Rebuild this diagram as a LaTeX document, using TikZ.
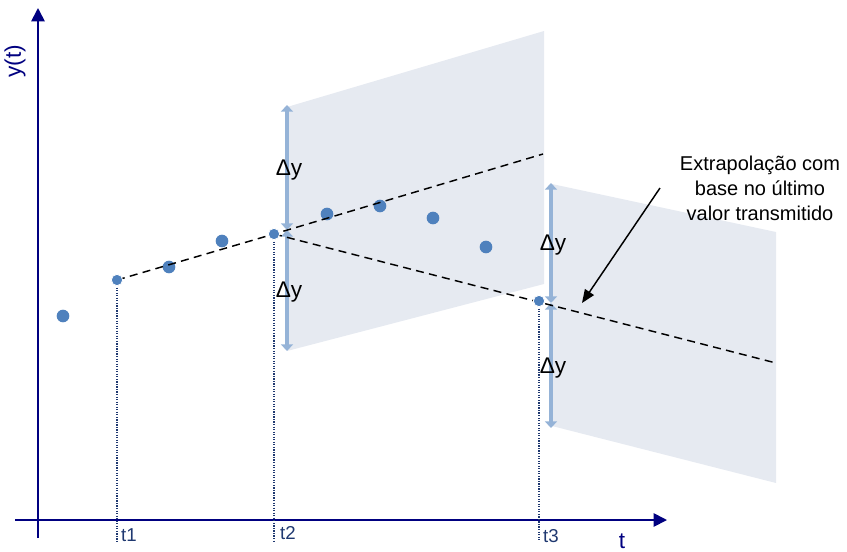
\documentclass[tikz,border=0pt]{standalone}
\usepackage{fontspec}
\setmainfont{Liberation Sans}
\usetikzlibrary{arrows.meta}
\definecolor{axisblue}{RGB}{0,0,128}
\definecolor{dotblue}{RGB}{79,129,189}
\definecolor{dyblue}{RGB}{149,179,215}
\definecolor{panelfill}{RGB}{230,234,241}
\definecolor{dotline}{RGB}{31,56,112}
\tikzset{
  pt/.style={circle,fill=dotblue,inner sep=0pt,minimum size=9.5pt},
  ptsmall/.style={circle,fill=dotblue,draw=white,line width=0.6pt,inner sep=0pt,minimum size=8.5pt},
  dashline/.style={black,line width=1.1pt,dash pattern=on 6pt off 4pt},
  dotv/.style={dotline,line width=0.9pt,densely dotted},
  dyarrow/.style={dyblue,line width=3pt,{Triangle[width=9pt,length=5pt]}-{Triangle[width=9pt,length=5pt]}},
  axis/.style={axisblue,line width=1.3pt,-{Triangle[width=10pt,length=10pt]}},
  panel/.style={fill=panelfill,draw=none},
  dylab/.style={font=\fontsize{17}{20}\selectfont,inner sep=0pt},
  tlab/.style={font=\fontsize{14}{16}\selectfont,text=dotline,inner sep=0pt},
  axlab/.style={font=\fontsize{17}{20}\selectfont,text=axisblue,inner sep=0pt}
}
\begin{document}
\begin{tikzpicture}[x=0.75pt,y=-0.75pt]
\useasboundingbox (0,0) rectangle (847,551);
% panels
\fill[panel] (287,107) -- (544,31) -- (544,284) -- (287,351) -- cycle;
\fill[panel] (552,184) -- (776,232) -- (776,483) -- (552,426) -- cycle;
% delta arrows
\coordinate (a1t) at (287,105);
\coordinate (a1m) at (287,230);
\coordinate (a1b) at (287,351);
\coordinate (a2t) at (551,183);
\coordinate (a2m) at (551,303);
\coordinate (a2b) at (551,428);
\draw[dyarrow] (a1t) -- (a1m);
\draw[dyarrow] (a1m) -- (a1b);
\draw[dyarrow] (a2t) -- (a2m);
\draw[dyarrow] (a2m) -- (a2b);
\node[dylab] (dy1) at (289,170) {Δy};
\node[dylab] (dy2) at (289,292) {Δy};
\node[dylab] (dy3) at (553,245) {Δy};
\node[dylab] (dy4) at (553,368) {Δy};
% axes
\coordinate (xs) at (15,520);
\coordinate (xe) at (667,520);
\coordinate (ys) at (38,538);
\coordinate (ye) at (38,8);
\draw[axis] (xs) -- (xe);
\draw[axis] (ys) -- (ye);
\node[axlab,rotate=90] (ylab) at (15,61) {y(t)};
\node[axlab] (tlabel) at (622,541) {t};
% points
\node[pt] (p1) at (63,316) {};
\node[ptsmall] (p2) at (117,280) {};
\node[pt] (p3) at (169,267) {};
\node[pt] (p4) at (222,241) {};
\node[ptsmall] (p5) at (274,234) {};
\node[pt] (p6) at (327,214) {};
\node[pt] (p7) at (380,206) {};
\node[pt] (p8) at (433,218) {};
\node[pt] (p9) at (486,247) {};
\node[ptsmall] (p10) at (539,301) {};
% dashed lines
\coordinate (e1) at (543,154);
\coordinate (e2) at (776,363);
\draw[dashline] (p2.center) -- (p5.center) -- (e1);
\draw[dashline] (p5.center) -- (e2);
% dotted lines
\coordinate (b1) at (117,541);
\coordinate (b2) at (274,541);
\coordinate (b3) at (539,541);
\draw[dotv] (p2.center) -- (b1);
\draw[dotv] (p5.center) -- (b2);
\draw[dotv] (p10.center) -- (b3);
% redraw points on top
\node[ptsmall] at (p2) {};
\node[ptsmall] at (p5) {};
\node[ptsmall] at (p10) {};
% tick labels
\node[tlab] (t1) at (129,535) {t1};
\node[tlab] (t2) at (288,533) {t2};
\node[tlab] (t3) at (551,536) {t3};
% annotation
\node[align=center,font=\fontsize{15}{18.75}\selectfont,inner sep=0pt] (ann) at (760,188) {Extrapolação com\\base no último\\valor transmitido};
\coordinate (as) at (660,188);
\coordinate (ae) at (582,303);
\draw[black,line width=1.1pt,-{Triangle[width=8pt,length=10pt]}] (as) -- (ae);
\end{tikzpicture}
\end{document}
